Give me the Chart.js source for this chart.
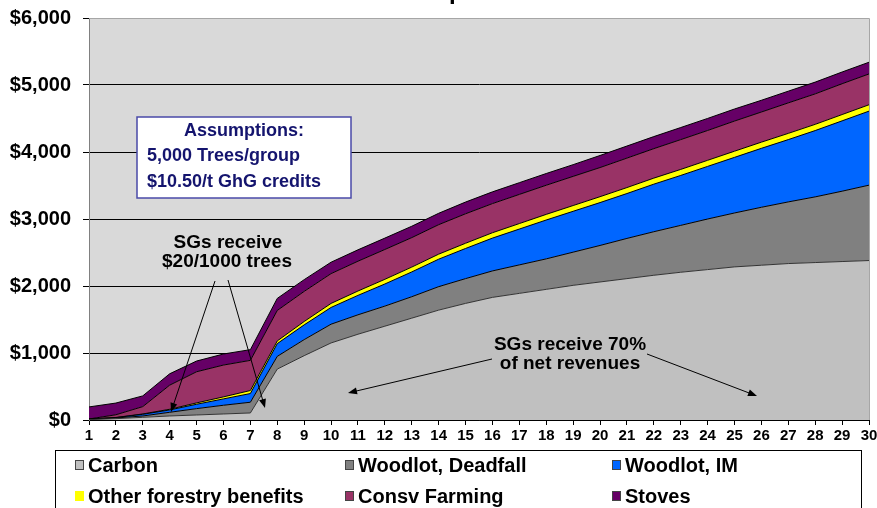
<!DOCTYPE html>
<html>
<head>
<meta charset="utf-8">
<script src="https://cdn.jsdelivr.net/npm/chart.js@4/dist/chart.umd.min.js"></script>
<style>
  html, body { margin: 0; padding: 0; background: #fff; }
  #wrap { width: 877px; height: 508px; position: relative; }
</style>
</head>
<body>
<div id="wrap"><canvas id="areaChart" width="877" height="508"></canvas></div>
<script>
const years = [1, 2, 3, 4, 5, 6, 7, 8, 9, 10, 11, 12, 13, 14, 15, 16, 17, 18, 19, 20, 21, 22, 23, 24, 25, 26, 27, 28, 29, 30];

const carbon = [5, 20, 40, 60, 75, 90, 105, 760, 960, 1150, 1280, 1400, 1520, 1640, 1740, 1830, 1890, 1950, 2010, 2060, 2110, 2160, 2205, 2245, 2285, 2310, 2335, 2350, 2365, 2380];
const deadfall = [3, 10, 20, 55, 95, 130, 160, 190, 240, 280, 290, 300, 320, 350, 370, 395, 425, 455, 495, 545, 600, 650, 700, 755, 805, 865, 920, 980, 1050, 1125];
const woodlotIM = [5, 5, 25, 35, 65, 95, 130, 190, 220, 250, 290, 330, 370, 410, 450, 490, 535, 580, 610, 640, 670, 710, 745, 785, 830, 880, 930, 990, 1050, 1105];
const otherForestry = [2, 3, 5, 10, 20, 30, 45, 40, 50, 60, 65, 70, 72, 75, 78, 80, 82, 84, 86, 88, 89, 90, 90, 91, 92, 92, 93, 93, 94, 95];
const consvFarming = [0, 40, 110, 360, 465, 475, 450, 455, 450, 445, 445, 445, 440, 440, 440, 435, 435, 435, 435, 435, 440, 440, 445, 445, 450, 450, 455, 455, 460, 460];
const stoves = [180, 175, 160, 170, 160, 165, 160, 180, 175, 170, 170, 170, 170, 170, 175, 175, 175, 175, 175, 180, 180, 180, 180, 180, 180, 175, 175, 175, 175, 175];

const seriesNames = ['Carbon', 'Woodlot, Deadfall', 'Woodlot, IM', 'Other forestry benefits', 'Consv Farming', 'Stoves'];
const seriesColors = ['#c0c0c0', '#808080', '#0066ff', '#ffff00', '#993366', '#660066'];
const seriesData = [carbon, deadfall, woodlotIM, otherForestry, consvFarming, stoves];

const FONT = '"Liberation Sans", Arial, sans-serif';
const NAVY = '#14146e';

const drawArrow = (ctx, x1, y1, x2, y2) => {
  const a = Math.atan2(y2 - y1, x2 - x1);
  ctx.beginPath();
  ctx.moveTo(x1, y1);
  ctx.lineTo(x2 - 6 * Math.cos(a), y2 - 6 * Math.sin(a));
  ctx.stroke();
  ctx.beginPath();
  ctx.moveTo(x2, y2);
  ctx.lineTo(x2 - 9 * Math.cos(a) + 3.5 * Math.sin(a), y2 - 9 * Math.sin(a) - 3.5 * Math.cos(a));
  ctx.lineTo(x2 - 9 * Math.cos(a) - 3.5 * Math.sin(a), y2 - 9 * Math.sin(a) + 3.5 * Math.cos(a));
  ctx.closePath();
  ctx.fill();
};

// plot background, frame, notes and legend box
const decor = {
  id: 'decor',
  beforeDraw(chart) {
    const { ctx, chartArea: a } = chart;
    ctx.save();
    ctx.fillStyle = '#fff';
    ctx.fillRect(0, 0, chart.width, chart.height);
    ctx.fillStyle = '#d9d9d9';
    ctx.fillRect(a.left, a.top, a.right - a.left, a.bottom - a.top);
    ctx.restore();
  },
  afterDraw(chart) {
    const { ctx, chartArea: a } = chart;
    ctx.save();

    // frame top/right
    ctx.strokeStyle = '#a6a6a6';
    ctx.lineWidth = 1;
    ctx.beginPath();
    ctx.moveTo(a.left, a.top + 0.5);
    ctx.lineTo(a.right + 0.5, a.top + 0.5);
    ctx.lineTo(a.right + 0.5, a.bottom);
    ctx.stroke();

    // cut-off title
    ctx.fillStyle = '#000';
    ctx.font = 'bold 24px ' + FONT;
    ctx.textBaseline = 'alphabetic';
    ctx.textAlign = 'left';
    const pre = ctx.measureText('Income ').width;
    ctx.fillText('Income per SG', 449 - pre, -1);

    // assumptions box
    ctx.fillStyle = '#fff';
    ctx.fillRect(137, 117, 214, 81);
    ctx.strokeStyle = '#4a4aa8';
    ctx.lineWidth = 1.5;
    ctx.strokeRect(137, 117, 214, 81);
    ctx.fillStyle = NAVY;
    ctx.font = 'bold 18px ' + FONT;
    ctx.textBaseline = 'middle';
    ctx.textAlign = 'center';
    ctx.fillText('Assumptions:', 244, 131);
    ctx.textAlign = 'left';
    ctx.fillText('5,000 Trees/group', 147, 156);
    ctx.fillText('$10.50/t GhG credits', 147, 182);

    // notes
    ctx.fillStyle = '#000';
    ctx.font = 'bold 19px ' + FONT;
    ctx.textAlign = 'center';
    ctx.fillText('SGs receive', 228, 243);
    ctx.fillText('$20/1000 trees', 227, 262);
    ctx.fillText('SGs receive 70%', 570, 345);
    ctx.fillText('of net revenues', 570, 364);

    ctx.strokeStyle = '#000';
    ctx.fillStyle = '#000';
    ctx.lineWidth = 1;
    drawArrow(ctx, 215, 281, 171, 412);
    drawArrow(ctx, 228, 280, 265, 408);
    drawArrow(ctx, 492, 359, 348, 393);
    drawArrow(ctx, 647, 354, 757, 396);

    // legend
    ctx.strokeStyle = '#000';
    ctx.strokeRect(55.5, 450.5, 806, 70);
    const cols = [75, 345, 612];
    const rows = [465, 496];
    ctx.font = 'bold 20px ' + FONT;
    ctx.textAlign = 'left';
    seriesNames.forEach((name, i) => {
      const x = cols[i % 3];
      const y = rows[Math.floor(i / 3)];
      ctx.fillStyle = seriesColors[i];
      ctx.fillRect(x, y - 5, 9, 10);
      if (i !== 3) {
        ctx.strokeStyle = '#444';
        ctx.strokeRect(x + 0.5, y - 4.5, 8, 9);
      }
      ctx.fillStyle = '#000';
      ctx.fillText(name, x + 13, y + 1);
    });
    ctx.restore();
  }
};

new Chart(document.getElementById('areaChart'), {
  type: 'line',
  data: {
    labels: years,
    datasets: seriesData.map((d, i) => ({
      label: seriesNames[i],
      data: d,
      backgroundColor: seriesColors[i],
      borderColor: i === 0 ? '#333' : '#000',
      borderWidth: 1,
      pointRadius: 0,
      tension: 0,
      fill: i === 0 ? 'origin' : '-1'
    }))
  },
  options: {
    responsive: false,
    animation: false,
    layout: { padding: { top: 18, right: 8, bottom: 58, left: 0 } },
    plugins: { legend: { display: false }, tooltip: { enabled: false } },
    scales: {
      x: {
        offset: false,
        afterFit: (s) => { s.height = 30; s.paddingLeft = 0; s.paddingRight = 0; },
        grid: { drawOnChartArea: false, drawTicks: true, tickLength: 5, color: '#000' },
        border: { color: '#000' },
        ticks: { autoSkip: false, maxRotation: 0, padding: 2, color: '#000', font: { family: FONT, size: 15, weight: 'bold' } }
      },
      y: {
        stacked: true,
        min: 0,
        max: 6000,
        afterFit: (s) => { s.width = 89; s.paddingTop = 0; s.paddingBottom = 0; },
        grid: {
          color: (c) => (c.tick && c.tick.value === 6000 ? '#a6a6a6' : '#000'),
          tickColor: '#000',
          tickLength: 6
        },
        border: { color: '#808080' },
        ticks: {
          stepSize: 1000,
          padding: 12,
          color: '#000',
          font: { family: FONT, size: 20, weight: 'bold' },
          callback: (v) => '$' + v.toLocaleString('en-US')
        }
      }
    }
  },
  plugins: [decor]
});
</script>
</body>
</html>
